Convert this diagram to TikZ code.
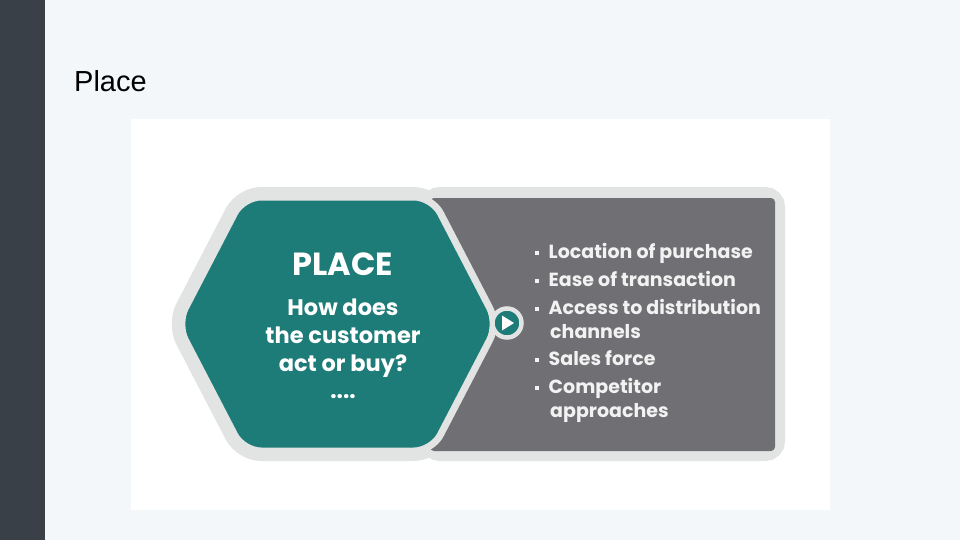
\documentclass[tikz,border=0pt]{standalone}
\usepackage{fontspec}
\setmainfont{Liberation Sans}
\newfontfamily\diagfont{Poppins}
\usepackage{xcolor}
\definecolor{pagebg}{HTML}{F3F7FA}
\definecolor{sidebar}{HTML}{394048}
\definecolor{rim}{HTML}{E2E3E3}
\definecolor{teal}{HTML}{1D7B78}
\definecolor{slate}{HTML}{707074}
\newcommand{\sqbullet}{\raisebox{3.5pt}{\rule{3.5pt}{3.5pt}}\hspace{10pt}}
\tikzset{
  heading/.style={font=\diagfont\bfseries\fontsize{32}{34}\selectfont, text=white},
  question/.style={font=\diagfont\bfseries\fontsize{22.5}{28}\selectfont, text=white, align=center},
  item/.style={font=\diagfont\bfseries\fontsize{19}{24}\selectfont, text=white!95!black, anchor=base west, inner sep=0pt},
}

\begin{document}
\begin{tikzpicture}[x=1pt,y=-1pt]
\useasboundingbox (0,0) rectangle (960,540);
\fill[pagebg] (0,0) rectangle (960,540);
\fill[sidebar] (0,0) rectangle (45,540);
\node[anchor=base west, font=\fontsize{29}{32}\selectfont, inner sep=0pt] (title) at (74,92) {Place};
\fill[white] (131,119) rectangle (830,510);

% outer rim
\draw[rim, line width=20pt, rounded corners=10pt] (430,197) rectangle (775,451);
\draw[rim, line width=20pt, rounded corners=18pt]
  (177,324) -- (243,197) -- (432,197) -- (498,324) -- (432,451) -- (243,451) -- cycle;
\fill[slate, rounded corners=4pt] (430,198) rectangle (775,451);
\filldraw[fill=teal, draw=rim, line width=7pt, rounded corners=18pt]
  (177,324) -- (243,197) -- (432,197) -- (498,324) -- (432,451) -- (243,451) -- cycle;

% play button
\filldraw[fill=teal, draw=rim, line width=4.5pt] (507,323) circle (14.5pt);
\fill[white] (502,315.5) -- (514,323) -- (502,330.5) -- cycle;

\node[heading] (head) at (343,264) {PLACE};
\node[question] (ask) at (343,338) {How does\\the customer\\act or buy?};
\node[question] (dots) at (343,397) {....};

\node[item] (i1) at (535,258) {\sqbullet Location of purchase};
\node[item] (i2) at (535,286) {\sqbullet Ease of transaction};
\node[item] (i3) at (535,314) {\sqbullet Access to distribution};
\node[item] (i3b) at (550,338) {channels};
\node[item] (i4) at (535,365) {\sqbullet Sales force};
\node[item] (i5) at (535,393) {\sqbullet Competitor};
\node[item] (i5b) at (550,417) {approaches};
\end{tikzpicture}
\end{document}
